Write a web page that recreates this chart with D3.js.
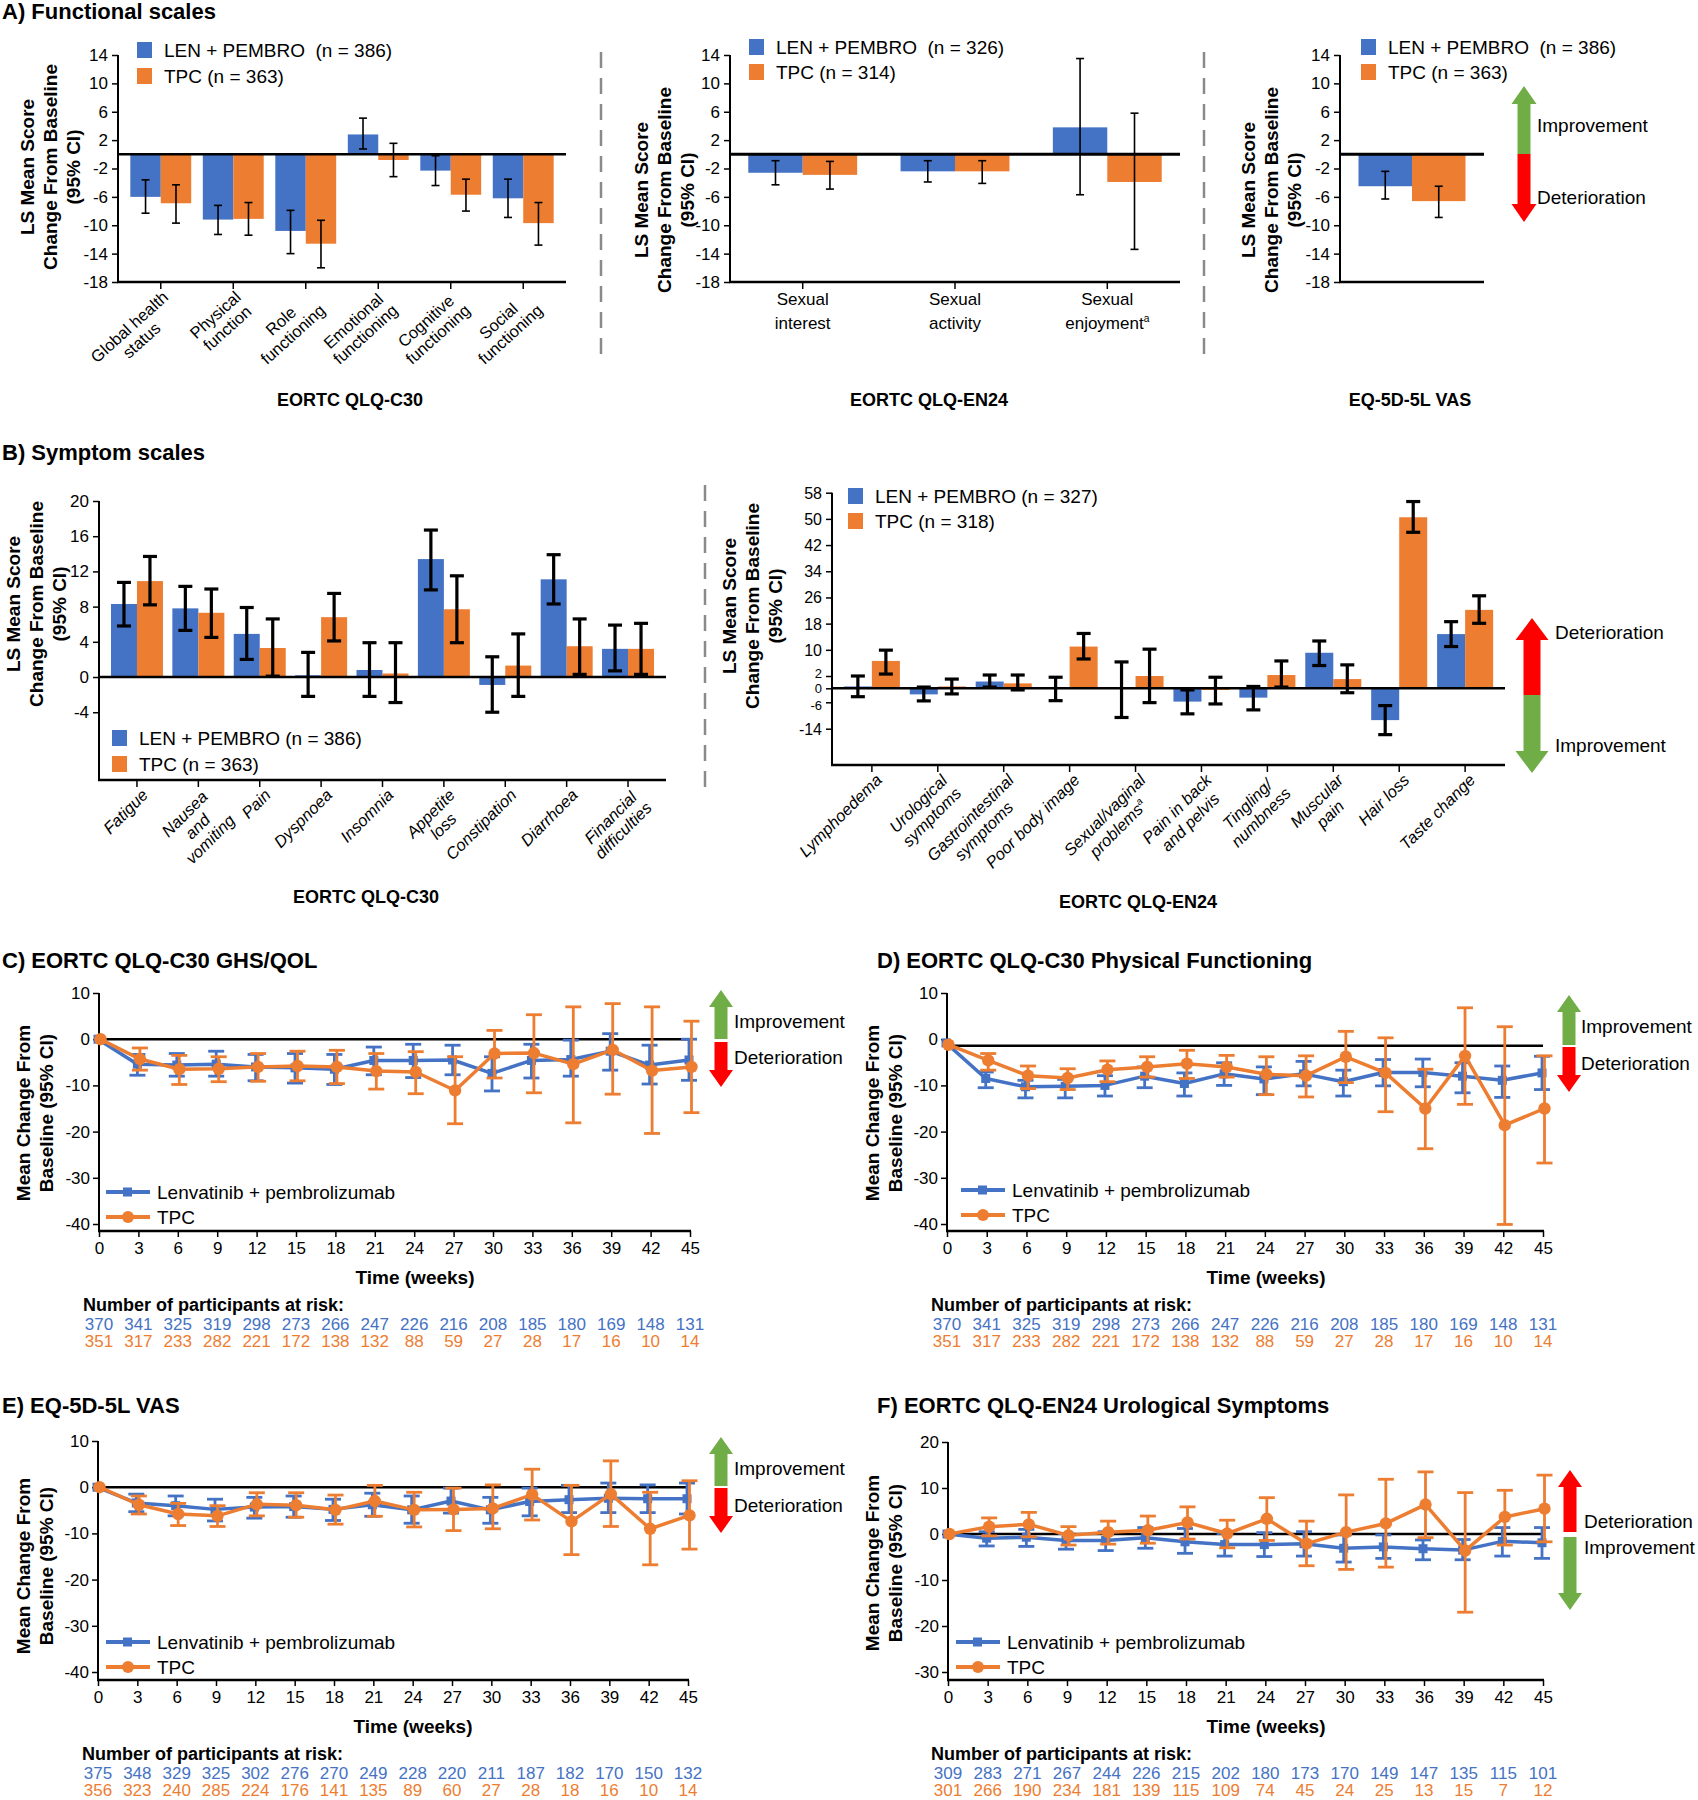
<!DOCTYPE html>
<html><head><meta charset="utf-8">
<script src="https://cdn.jsdelivr.net/npm/d3@7/dist/d3.min.js"></script>
<style>
html,body{margin:0;padding:0;background:#fff;}
svg text{font-family:"Liberation Sans",Arial,Helvetica,sans-serif;white-space:pre;}
</style></head><body><div id="chart"></div>
<script>
// ================= DATA =================
// A) Functional scales – EORTC QLQ-C30
const c30FuncCats = [["Global health","status"],["Physical","function"],["Role","functioning"],["Emotional","functioning"],["Cognitive","functioning"],["Social","functioning"]];
const c30FuncLen   = [-6.0, -9.2, -10.8, 2.8, -2.3, -6.2];
const c30FuncLenLo = [-8.3, -11.3, -14.0, 0.75, -4.4, -8.9];
const c30FuncLenHi = [-3.6, -7.2, -7.9, 5.1, -0.2, -3.5];
const c30FuncTpc   = [-6.9, -9.1, -12.6, -0.8, -5.7, -9.7];
const c30FuncTpcLo = [-9.7, -11.4, -16.0, -3.15, -8.0, -12.8];
const c30FuncTpcHi = [-4.3, -6.8, -9.3, 1.55, -3.5, -6.8];
const funcTicks = [14, 10, 6, 2, -2, -6, -10, -14, -18];

// A) EORTC QLQ-EN24 sexual scales
const en24FuncCats = [["Sexual","interest"],["Sexual","activity"],["Sexual","enjoyment^a"]];
const en24FuncLen   = [-2.6, -2.4, 3.8];
const en24FuncLenLo = [-4.3, -3.9, -5.7];
const en24FuncLenHi = [-0.9, -0.9, 13.5];
const en24FuncTpc   = [-2.9, -2.4, -3.9];
const en24FuncTpcLo = [-4.9, -4.1, -13.4];
const en24FuncTpcHi = [-1.0, -0.9, 5.8];

// A) EQ-5D-5L VAS
const vasCats = [["EQ-5D-5L VAS"]];
const vasBarLen = [-4.5], vasBarLenLo = [-6.3], vasBarLenHi = [-2.4];
const vasBarTpc = [-6.6], vasBarTpcLo = [-8.9], vasBarTpcHi = [-4.5];

// B) Symptom scales – EORTC QLQ-C30
const c30SympCats = [["Fatigue"],["Nausea","and","vomiting"],["Pain"],["Dyspnoea"],["Insomnia"],["Appetite","loss"],["Constipation"],["Diarrhoea"],["Financial","difficulties"]];
const c30SympLen   = [8.3, 7.8, 4.9, 0.2, 0.8, 13.4, -0.9, 11.1, 3.2];
const c30SympLenLo = [5.8, 5.3, 2.0, -2.2, -2.2, 9.9, -4.0, 8.3, 0.7];
const c30SympLenHi = [10.75, 10.3, 7.9, 2.8, 3.9, 16.7, 2.3, 13.9, 5.9];
const c30SympTpc   = [10.9, 7.3, 3.3, 6.8, 0.4, 7.7, 1.3, 3.5, 3.2];
const c30SympTpcLo = [8.2, 4.5, 0.1, 4.1, -2.9, 3.9, -2.2, 0.3, 0.3];
const c30SympTpcHi = [13.7, 10.0, 6.6, 9.5, 3.9, 11.5, 4.9, 6.6, 6.1];
const c30SympTicks = [20, 16, 12, 8, 4, 0, -4];

// B) Symptom scales – EORTC QLQ-EN24
const en24SympCats = [["Lymphoedema"],["Urological","symptoms"],["Gastrointestinal","symptoms"],["Poor body image"],["Sexual/vaginal","problems^a"],["Pain in back","and pelvis"],["Tingling/","numbness"],["Muscular","pain"],["Hair loss"],["Taste change"]];
const en24SympLen   = [0.3, -2.6, 1.1, 0, 0, -5.7, -4.0, 9.1, -11.4, 14.8];
const en24SympLenLo = [-3.6, -5.4, 0.2, -5.3, -10.6, -9.5, -8.3, 5.2, -15.8, 11.0];
const en24SympLenHi = [2.0, 0.2, 2.3, 1.8, 6.3, -0.7, 0.3, 12.7, -7.0, 18.6];
const en24SympTpc   = [6.6, 0.3, 0.8, 11.0, 2.0, -0.7, 2.3, 1.5, 50.5, 22.2];
const en24SympTpcLo = [2.6, -2.4, -0.7, 7.2, -6.1, -6.5, 0.2, -1.9, 45.9, 18.1];
const en24SympTpcHi = [9.9, 1.5, 2.3, 15.0, 10.2, 1.8, 6.6, 5.4, 55.3, 26.5];
const en24SympTicks = [58, 50, 42, 34, 26, 18, 10, 2, 0, -6, -14];

// C-F) Longitudinal
const weeks = [0, 3, 6, 9, 12, 15, 18, 21, 24, 27, 30, 33, 36, 39, 42, 45];

const ghsLen   = [0, -5.4, -5.6, -5.4, -6.0, -6.2, -6.5, -4.6, -4.6, -4.5, -7.4, -4.6, -4.4, -2.6, -5.6, -4.5];
const ghsLenLo = [null, -7.8, -8.0, -8.0, -9.0, -9.5, -9.8, -7.7, -8.3, -7.7, -11.2, -8.4, -8.0, -6.7, -9.7, -8.9];
const ghsLenHi = [null, -3.3, -3.1, -2.6, -3.3, -3.1, -3.3, -1.7, -1.1, -1.3, -3.8, -1.1, -0.2, 1.2, -1.3, 0];
const ghsTpc   = [0, -4.3, -6.5, -6.4, -6.0, -5.8, -6.0, -6.9, -7.1, -11.1, -3.1, -3.0, -5.4, -2.3, -6.8, -6.0];
const ghsTpcLo = [null, -6.7, -9.8, -9.2, -9.1, -9.0, -9.6, -10.8, -11.8, -18.3, -8.4, -11.6, -18.1, -11.9, -20.4, -15.9];
const ghsTpcHi = [null, -1.9, -3.5, -3.8, -3.1, -2.6, -2.4, -3.1, -2.7, -3.8, 1.9, 5.3, 7.0, 7.7, 7.0, 3.9];
const ghsRiskLen = [370, 341, 325, 319, 298, 273, 266, 247, 226, 216, 208, 185, 180, 169, 148, 131];
const ghsRiskTpc = [351, 317, 233, 282, 221, 172, 138, 132, 88, 59, 27, 28, 17, 16, 10, 14];

const pfLen   = [-0.8, -8.5, -10.3, -10.2, -10.0, -8.0, -9.6, -7.5, -8.6, -7.5, -9.2, -7.2, -7.2, -8.0, -8.9, -7.3];
const pfLenLo = [null, -10.5, -12.7, -12.7, -12.3, -10.5, -12.3, -10.0, -12.0, -10.1, -12.3, -10.1, -10.3, -11.6, -12.6, -10.9];
const pfLenHi = [null, -7.1, -8.9, -8.7, -7.9, -6.0, -7.3, -5.1, -6.0, -4.8, -6.7, -4.4, -4.3, -5.1, -5.8, -3.7];
const pfTpc   = [-1.2, -4.6, -7.9, -8.4, -6.6, -6.0, -5.3, -6.0, -7.6, -7.9, -3.8, -7.3, -15.0, -3.6, -18.6, -15.0];
const pfTpcLo = [null, -6.7, -10.7, -10.9, -9.2, -8.2, -8.5, -8.2, -12.0, -12.5, -9.4, -15.7, -23.7, -14.1, -40.1, -26.8];
const pfTpcHi = [null, -3.1, -5.8, -6.4, -4.7, -3.8, -2.4, -3.5, -3.8, -3.6, 1.7, 0.3, -6.5, 6.8, 2.7, -3.6];
const pfRiskLen = [370, 341, 325, 319, 298, 273, 266, 247, 226, 216, 208, 185, 180, 169, 148, 131];
const pfRiskTpc = [351, 317, 233, 282, 221, 172, 138, 132, 88, 59, 27, 28, 17, 16, 10, 14];

const vasLen   = [0, -3.4, -4.0, -4.8, -4.3, -4.2, -4.8, -3.8, -4.9, -3.0, -4.9, -3.1, -2.7, -2.4, -2.5, -2.5];
const vasLenLo = [null, -5.3, -6.2, -7.3, -6.7, -6.5, -7.2, -6.3, -7.8, -5.6, -7.8, -6.2, -5.5, -5.5, -5.5, -5.8];
const vasLenHi = [null, -1.5, -1.9, -2.6, -2.2, -1.9, -2.6, -1.3, -1.9, -0.2, -2.2, -0.2, 0.4, 0.9, 0.5, 0.9];
const vasTpc   = [0, -3.8, -5.8, -6.2, -3.7, -3.9, -4.9, -3.0, -4.9, -4.8, -4.6, -1.6, -7.4, -1.5, -9.0, -6.1];
const vasTpcLo = [null, -5.8, -8.3, -8.5, -6.2, -6.5, -8.0, -6.3, -8.6, -9.4, -9.0, -7.1, -14.6, -8.5, -16.8, -13.4];
const vasTpcHi = [null, -1.9, -3.5, -4.0, -1.2, -1.2, -1.7, 0.4, -1.1, -0.2, 0.5, 3.9, 0.4, 5.7, -1.1, 1.4];
const vasRiskLen = [375, 348, 329, 325, 302, 276, 270, 249, 228, 220, 211, 187, 182, 170, 150, 132];
const vasRiskTpc = [356, 323, 240, 285, 224, 176, 141, 135, 89, 60, 27, 28, 18, 16, 10, 14];

const uroLen   = [0, -0.9, -0.7, -1.4, -1.4, -0.8, -1.7, -2.3, -2.3, -2.1, -3.1, -2.8, -3.2, -3.5, -1.6, -1.9];
const uroLenLo = [null, -2.6, -2.7, -3.3, -3.6, -3.1, -4.2, -4.8, -4.9, -4.8, -6.1, -5.3, -5.6, -5.6, -4.8, -5.3];
const uroLenHi = [null, 0.5, 1.0, 0.1, 0.5, 1.4, 1.2, 0.1, 0.3, 0.5, -0.2, -0.2, -1.3, -1.2, 1.4, 1.4];
const uroTpc   = [0, 1.6, 2.1, -0.3, 0.4, 0.8, 2.5, 0.1, 3.3, -2.1, 0.4, 2.3, 6.4, -3.6, 3.7, 5.5];
const uroTpcLo = [null, -0.4, -0.6, -2.4, -2.2, -2.0, -1.1, -3.0, -1.4, -6.9, -7.7, -7.2, -0.8, -17.0, -2.4, -1.7];
const uroTpcHi = [null, 3.5, 4.7, 1.6, 2.8, 3.9, 5.9, 3.0, 7.9, 2.8, 8.5, 11.9, 13.5, 9.0, 9.5, 12.8];
const uroRiskLen = [309, 283, 271, 267, 244, 226, 215, 202, 180, 173, 170, 149, 147, 135, 115, 101];
const uroRiskTpc = [301, 266, 190, 234, 181, 139, 115, 109, 74, 45, 24, 25, 13, 15, 7, 12];

const lineTicks40 = [10, 0, -10, -20, -30, -40];
const lineTicks30 = [20, 10, 0, -10, -20, -30];

// ================= DRAWING =================
const BLUE = "#4472C4", ORANGE = "#ED7D31", GREEN = "#70AD47", RED = "#FF0000", BLACK = "#000";
const svg = d3.select("#chart").append("svg").attr("width", 1698).attr("height", 1800).style("display", "block");

function txt(g, x, y, s, o = {}) {
  const t = g.append("text").attr("x", x).attr("y", y)
    .attr("font-size", o.size || 17).attr("font-weight", o.bold ? "bold" : "normal")
    .attr("text-anchor", o.anchor || "start").attr("fill", o.color || BLACK);
  if (o.italic) t.attr("font-style", "italic");
  addLine(t, s, o.size || 17);
  return t;
}
function addLine(t, s, size) {
  const m = s.split("^");
  t.append("tspan").text(m[0]);
  if (m[1]) t.append("tspan").attr("font-size", size * 0.6).attr("dy", -size * 0.4).text(m[1]);
}
function rotLabel(g, ax, ay, lines, angle, size, italic, lh) {
  const gg = g.append("g").attr("transform", `translate(${ax},${ay}) rotate(${angle})`);
  const ts = lines.map((l, i) => {
    const t = gg.append("text").attr("y", size * 0.78 + i * lh).attr("font-size", size).attr("text-anchor", "middle");
    if (italic) t.attr("font-style", "italic");
    addLine(t, l, size);
    return t;
  });
  const w = d3.max(ts, t => t.node().getComputedTextLength());
  ts.forEach(t => t.attr("x", -w / 2));
}
function yTitle(cx, cy, lines, spacing, size) {
  const g = svg.append("g").attr("transform", `translate(${cx},${cy}) rotate(-90)`);
  lines.forEach((l, i) => g.append("text").attr("x", 0)
    .attr("y", (i - (lines.length - 1) / 2) * spacing + size * 0.36)
    .attr("text-anchor", "middle").attr("font-size", size).attr("font-weight", "bold").text(l));
}
function arrow(x, yBase, yTip, color, shaftW, headW, headL) {
  const dir = yTip < yBase ? -1 : 1;
  const yh = yTip - dir * headL;
  const pts = [[x - shaftW / 2, yBase], [x - shaftW / 2, yh], [x - headW / 2, yh], [x, yTip], [x + headW / 2, yh], [x + shaftW / 2, yh], [x + shaftW / 2, yBase]];
  svg.append("path").attr("d", d3.line()(pts) + "Z").attr("fill", color);
}
function styleAxis(a, size) {
  a.attr("font-family", null).attr("font-size", null);
  a.selectAll("text").attr("font-size", size).attr("fill", BLACK);
  a.selectAll(".tick line").attr("stroke", BLACK).attr("stroke-width", 1.5);
}

function barPanel(o) {
  const g = svg.append("g");
  const x = d3.scaleBand().domain(o.cats.map((_, i) => i)).range(o.xr).paddingInner(o.pI).paddingOuter(o.pO);
  const sub = d3.scaleBand().domain(["len", "tpc"]).range([0, x.bandwidth()]);
  const y = o.y;
  const y0 = y(0);
  const [dmin, dmax] = d3.extent(y.domain());
  const yBot = y(dmin), yTop = y(dmax);
  const series = [
    { k: "len", m: o.lenM, lo: o.lenLo, hi: o.lenHi, c: BLUE },
    { k: "tpc", m: o.tpcM, lo: o.tpcLo, hi: o.tpcHi, c: ORANGE }];
  series.forEach(s => {
    g.append("g").selectAll("rect").data(s.m).join("rect")
      .attr("x", (d, i) => x(i) + sub(s.k)).attr("width", sub.bandwidth())
      .attr("y", d => Math.min(y(d), y0)).attr("height", d => Math.max(Math.abs(y(d) - y0), 0.01))
      .attr("fill", s.c);
  });
  g.append("line").attr("x1", o.xr[0]).attr("x2", o.xr[1]).attr("y1", y0).attr("y2", y0)
    .attr("stroke", BLACK).attr("stroke-width", o.zeroW);
  series.forEach(s => {
    const eg = g.append("g").attr("stroke", BLACK).attr("stroke-width", o.ebW).attr("fill", "none");
    s.m.forEach((d, i) => {
      const cx = x(i) + sub(s.k) + sub.bandwidth() / 2;
      eg.append("line").attr("x1", cx).attr("x2", cx).attr("y1", y(s.lo[i])).attr("y2", y(s.hi[i]));
      [s.lo[i], s.hi[i]].forEach(v => eg.append("line").attr("x1", cx - o.capW / 2).attr("x2", cx + o.capW / 2).attr("y1", y(v)).attr("y2", y(v)));
    });
  });
  const ya = g.append("g").attr("transform", `translate(${o.xr[0]},0)`)
    .call(d3.axisLeft(y).tickValues(o.ticks).tickFormat(d => String(d)).tickSizeInner(6).tickSizeOuter(0).tickPadding(4));
  ya.select(".domain").remove();
  styleAxis(ya, o.tickSize || 16);
  if (o.tickNudge) {
    ya.selectAll(".tick text").attr("dy", null).attr("dominant-baseline", "central")
      .attr("y", d => o.tickNudge[d] || 0)
      .attr("font-size", d => (o.tickNudge[d] !== undefined ? o.nudgeSize : o.tickSize));
  }
  g.append("line").attr("x1", o.xr[0]).attr("x2", o.xr[0]).attr("y1", yTop).attr("y2", yBot + 1).attr("stroke", BLACK).attr("stroke-width", 2);
  g.append("line").attr("x1", o.xr[0] - 1).attr("x2", o.xr[1]).attr("y1", yBot).attr("y2", yBot).attr("stroke", BLACK).attr("stroke-width", 2.5);
  if (o.xTicks) {
    o.cats.forEach((c, i) => {
      const cx = x(i) + x.bandwidth() / 2;
      g.append("line").attr("x1", cx).attr("x2", cx).attr("y1", yBot).attr("y2", yBot + 7).attr("stroke", BLACK).attr("stroke-width", 1.5);
    });
  }
  if (o.labels === "rot") {
    o.cats.forEach((c, i) => rotLabel(g, x(i) + x.bandwidth() / 2 + o.labDx, yBot + o.labDy, c, o.angle, o.labSize, o.italic, o.labLh));
  } else if (o.labels === "flat") {
    o.cats.forEach((c, i) => c.forEach((l, j) => txt(g, x(i) + x.bandwidth() / 2, yBot + 23 + j * 24, l, { size: 17, anchor: "middle" })));
  }
  const L = o.legend;
  [[BLUE, L.t1, L.y1], [ORANGE, L.t2, L.y2]].forEach(([c, t, yy]) => {
    g.append("rect").attr("x", L.x).attr("y", yy - 8).attr("width", 15).attr("height", 16).attr("fill", c);
    txt(g, L.x + 27, yy + 7, t, { size: 19 });
  });
  return { x, y };
}

function linePanel(o) {
  const g = svg.append("g");
  const x = d3.scaleLinear().domain([0, 45]).range(o.xr);
  const y = d3.scaleLinear().domain(o.yd).range(o.yr);
  g.append("line").attr("x1", x(0)).attr("x2", x(45)).attr("y1", y(o.ref)).attr("y2", y(o.ref))
    .attr("stroke", BLACK).attr("stroke-width", 2.5);
  const ya = g.append("g").attr("transform", `translate(${x(0)},0)`)
    .call(d3.axisLeft(y).tickValues(o.yticks).tickFormat(d => String(d)).tickSizeInner(6).tickSizeOuter(0).tickPadding(3));
  ya.select(".domain").remove();
  styleAxis(ya, 17);
  g.append("line").attr("x1", x(0)).attr("x2", x(0)).attr("y1", y(o.yd[1])).attr("y2", o.axisY).attr("stroke", BLACK).attr("stroke-width", 2);
  const xa = g.append("g").attr("transform", `translate(0,${o.axisY})`)
    .call(d3.axisBottom(x).tickValues(weeks).tickFormat(d => String(d)).tickSizeInner(6).tickSizeOuter(0).tickPadding(5));
  xa.select(".domain").remove();
  styleAxis(xa, 17);
  g.append("line").attr("x1", x(0) - 1).attr("x2", x(45) + 1).attr("y1", o.axisY).attr("y2", o.axisY).attr("stroke", BLACK).attr("stroke-width", 2.5);
  const series = [
    { m: o.lenM, lo: o.lenLo, hi: o.lenHi, c: BLUE, dx: -1, shape: "sq" },
    { m: o.tpcM, lo: o.tpcLo, hi: o.tpcHi, c: ORANGE, dx: 1.5, shape: "ci" }];
  series.forEach(s => {
    const sg = g.append("g");
    const eb = sg.append("g").attr("stroke", s.c).attr("stroke-width", 2.8);
    s.m.forEach((d, i) => {
      if (s.lo[i] == null) return;
      const cx = x(weeks[i]) + s.dx;
      eb.append("line").attr("x1", cx).attr("x2", cx).attr("y1", y(s.lo[i])).attr("y2", y(s.hi[i]));
      [s.lo[i], s.hi[i]].forEach(v => eb.append("line").attr("x1", cx - 8).attr("x2", cx + 8).attr("y1", y(v)).attr("y2", y(v)));
    });
    sg.append("path").datum(s.m)
      .attr("d", d3.line().x((d, i) => x(weeks[i]) + s.dx).y(d => y(d)))
      .attr("fill", "none").attr("stroke", s.c).attr("stroke-width", 3.5).attr("stroke-linejoin", "round");
    if (s.shape === "sq") {
      sg.selectAll("rect").data(s.m).join("rect")
        .attr("x", (d, i) => x(weeks[i]) + s.dx - 4.5).attr("y", d => y(d) - 4.5)
        .attr("width", 9).attr("height", 9).attr("fill", s.c);
    } else {
      sg.selectAll("circle").data(s.m).join("circle")
        .attr("cx", (d, i) => x(weeks[i]) + s.dx).attr("cy", d => y(d)).attr("r", 6.2).attr("fill", s.c);
    }
  });
  const L = o.legend;
  [[BLUE, "Lenvatinib + pembrolizumab", L.y1, "sq"], [ORANGE, "TPC", L.y2, "ci"]].forEach(([c, t, yy, sh]) => {
    g.append("line").attr("x1", L.x).attr("x2", L.x + 44).attr("y1", yy).attr("y2", yy).attr("stroke", c).attr("stroke-width", 4);
    if (sh === "sq") g.append("rect").attr("x", L.x + 17).attr("y", yy - 4.5).attr("width", 9).attr("height", 9).attr("fill", c);
    else g.append("circle").attr("cx", L.x + 22).attr("cy", yy).attr("r", 6).attr("fill", c);
    txt(g, L.x + 51, yy + 7, t, { size: 19 });
  });
  txt(g, o.timeX, o.axisY + 53, "Time (weeks)", { size: 19, bold: true, anchor: "middle" });
  txt(g, o.riskX, o.axisY + 80, "Number of participants at risk:", { size: 18, bold: true });
  [[o.riskLen, BLUE, 99], [o.riskTpc, ORANGE, 116]].forEach(([arr, c, dy]) => {
    g.append("g").selectAll("text").data(arr).join("text")
      .attr("x", (d, i) => x(weeks[i])).attr("y", o.axisY + dy)
      .attr("text-anchor", "middle").attr("font-size", 17).attr("fill", c).text(d => d);
  });
}

// ---------- Panel titles ----------
txt(svg, 2, 19, "A) Functional scales", { size: 22, bold: true });
txt(svg, 2, 460, "B) Symptom scales", { size: 22, bold: true });
txt(svg, 2, 968, "C) EORTC QLQ-C30 GHS/QOL", { size: 22, bold: true });
txt(svg, 877, 968, "D) EORTC QLQ-C30 Physical Functioning", { size: 22, bold: true });
txt(svg, 2, 1413, "E) EQ-5D-5L VAS", { size: 22, bold: true });
txt(svg, 877, 1413, "F) EORTC QLQ-EN24 Urological Symptoms", { size: 22, bold: true });

// ---------- dashed dividers ----------
[[601, 52, 358], [1204, 52, 358], [705, 485, 790]].forEach(([xx, y1, y2]) =>
  svg.append("line").attr("x1", xx).attr("x2", xx).attr("y1", y1).attr("y2", y2)
    .attr("stroke", "#8a8a8a").attr("stroke-width", 2.5).attr("stroke-dasharray", "16,10"));

// ---------- A) ----------
const yFunc = d3.scaleLinear().domain([-18, 14]).range([282, 55]);
const lsTitle = ["LS Mean Score", "Change From Baseline", "(95% CI)"];

barPanel({ cats: c30FuncCats, xr: [118, 566], pI: 0.16, pO: 0.17, y: yFunc, ticks: funcTicks, tickSize: 17,
  lenM: c30FuncLen, lenLo: c30FuncLenLo, lenHi: c30FuncLenHi, tpcM: c30FuncTpc, tpcLo: c30FuncTpcLo, tpcHi: c30FuncTpcHi,
  zeroW: 2.5, ebW: 1.6, capW: 8, xTicks: true, labels: "rot", angle: -42, labDx: 0, labDy: 7, labSize: 16.5, labLh: 18, italic: false,
  legend: { x: 137, y1: 50, y2: 76, t1: "LEN + PEMBRO  (n = 386)", t2: "TPC (n = 363)" } });
yTitle(50, 167, lsTitle, 23, 19);
txt(svg, 350, 406, "EORTC QLQ-C30", { size: 18, bold: true, anchor: "middle" });

barPanel({ cats: en24FuncCats, xr: [730, 1180], pI: 0.285, pO: 0.12, y: yFunc, ticks: funcTicks, tickSize: 17,
  lenM: en24FuncLen, lenLo: en24FuncLenLo, lenHi: en24FuncLenHi, tpcM: en24FuncTpc, tpcLo: en24FuncTpcLo, tpcHi: en24FuncTpcHi,
  zeroW: 3, ebW: 1.6, capW: 8, xTicks: true, labels: "flat",
  legend: { x: 749, y1: 47, y2: 72, t1: "LEN + PEMBRO  (n = 326)", t2: "TPC (n = 314)" } });
yTitle(664, 190, lsTitle, 23, 19);
txt(svg, 929, 406, "EORTC QLQ-EN24", { size: 18, bold: true, anchor: "middle" });

barPanel({ cats: vasCats, xr: [1340, 1484], pI: 0, pO: 0.173, y: yFunc, ticks: funcTicks, tickSize: 17,
  lenM: vasBarLen, lenLo: vasBarLenLo, lenHi: vasBarLenHi, tpcM: vasBarTpc, tpcLo: vasBarTpcLo, tpcHi: vasBarTpcHi,
  zeroW: 3, ebW: 1.6, capW: 8, xTicks: false, labels: "none",
  legend: { x: 1361, y1: 47, y2: 72, t1: "LEN + PEMBRO  (n = 386)", t2: "TPC (n = 363)" } });
yTitle(1271, 190, lsTitle, 23, 19);
txt(svg, 1410, 406, "EQ-5D-5L VAS", { size: 18, bold: true, anchor: "middle" });
arrow(1524, 154, 86, GREEN, 13, 25, 18);
arrow(1524, 154, 222, RED, 13, 25, 18);
txt(svg, 1537, 132, "Improvement", { size: 19 });
txt(svg, 1537, 204, "Deterioration", { size: 19 });

// ---------- B) ----------
const ySympC30 = d3.scaleLinear().domain([-11.7, 20]).range([780, 501]);
barPanel({ cats: c30SympCats, xr: [99, 666], pI: 0.153, pO: 0.195, y: ySympC30, ticks: c30SympTicks, tickSize: 17,
  lenM: c30SympLen, lenLo: c30SympLenLo, lenHi: c30SympLenHi, tpcM: c30SympTpc, tpcLo: c30SympTpcLo, tpcHi: c30SympTpcHi,
  zeroW: 2.5, ebW: 3.2, capW: 14, xTicks: true, labels: "rot", angle: -45, labDx: 3, labDy: 7, labSize: 16.5, labLh: 18, italic: true,
  legend: { x: 112, y1: 738, y2: 764, t1: "LEN + PEMBRO (n = 386)", t2: "TPC (n = 363)" } });
yTitle(36, 604, lsTitle, 23, 19);
txt(svg, 366, 903, "EORTC QLQ-C30", { size: 18, bold: true, anchor: "middle" });

// segmented (polylinear) axis as in the source figure
const ySympEN = d3.scaleLinear().domain([-25, -14, -6, 0, 2, 58]).range([765, 728.7, 702.3, 688.3, 676, 492.7]);
barPanel({ cats: en24SympCats, xr: [832, 1505], pI: 0.15, pO: 0.18, y: ySympEN, ticks: en24SympTicks, tickSize: 16,
  tickNudge: { 2: -3.5, 0: 0, "-6": 2.5 }, nudgeSize: 13,
  lenM: en24SympLen, lenLo: en24SympLenLo, lenHi: en24SympLenHi, tpcM: en24SympTpc, tpcLo: en24SympTpcLo, tpcHi: en24SympTpcHi,
  zeroW: 2.5, ebW: 3.2, capW: 14, xTicks: true, labels: "rot", angle: -45, labDx: 2, labDy: 7, labSize: 16.5, labLh: 19, italic: true,
  legend: { x: 848, y1: 496, y2: 521, t1: "LEN + PEMBRO (n = 327)", t2: "TPC (n = 318)" } });
yTitle(752, 606, lsTitle, 23, 19);
txt(svg, 1138, 908, "EORTC QLQ-EN24", { size: 18, bold: true, anchor: "middle" });
arrow(1532, 695, 618, RED, 17, 33, 22);
arrow(1532, 695, 773, GREEN, 17, 33, 22);
txt(svg, 1555, 639, "Deterioration", { size: 19 });
txt(svg, 1555, 752, "Improvement", { size: 19 });

// ---------- C–F) ----------
const mcTitle = ["Mean Change From", "Baseline (95% CI)"];
linePanel({ xr: [99, 690], yd: [-40, 10], yr: [1224, 993], axisY: 1231, ref: 0, yticks: lineTicks40,
  lenM: ghsLen, lenLo: ghsLenLo, lenHi: ghsLenHi, tpcM: ghsTpc, tpcLo: ghsTpcLo, tpcHi: ghsTpcHi,
  riskLen: ghsRiskLen, riskTpc: ghsRiskTpc, timeX: 415, riskX: 83,
  legend: { x: 106, y1: 1192, y2: 1217 } });
yTitle(35, 1113, mcTitle, 23, 19);
arrow(721, 1039, 990, GREEN, 13, 24, 17);
arrow(721, 1042, 1087, RED, 13, 24, 17);
txt(svg, 734, 1028, "Improvement", { size: 19 });
txt(svg, 734, 1064, "Deterioration", { size: 19 });

linePanel({ xr: [947, 1543], yd: [-40, 10], yr: [1224, 993], axisY: 1231, ref: -1.4, yticks: lineTicks40,
  lenM: pfLen, lenLo: pfLenLo, lenHi: pfLenHi, tpcM: pfTpc, tpcLo: pfTpcLo, tpcHi: pfTpcHi,
  riskLen: pfRiskLen, riskTpc: pfRiskTpc, timeX: 1266, riskX: 931,
  legend: { x: 961, y1: 1190, y2: 1215 } });
yTitle(884, 1113, mcTitle, 23, 19);
arrow(1569, 1045, 995, GREEN, 13, 24, 17);
arrow(1569, 1047, 1092, RED, 13, 24, 17);
txt(svg, 1581, 1033, "Improvement", { size: 19 });
txt(svg, 1581, 1070, "Deterioration", { size: 19 });

linePanel({ xr: [98, 688], yd: [-40, 10], yr: [1672, 1441], axisY: 1680, ref: 0, yticks: lineTicks40,
  lenM: vasLen, lenLo: vasLenLo, lenHi: vasLenHi, tpcM: vasTpc, tpcLo: vasTpcLo, tpcHi: vasTpcHi,
  riskLen: vasRiskLen, riskTpc: vasRiskTpc, timeX: 413, riskX: 82,
  legend: { x: 106, y1: 1642, y2: 1667 } });
yTitle(35, 1566, mcTitle, 23, 19);
arrow(721, 1486, 1437, GREEN, 13, 24, 17);
arrow(721, 1488, 1533, RED, 13, 24, 17);
txt(svg, 734, 1475, "Improvement", { size: 19 });
txt(svg, 734, 1512, "Deterioration", { size: 19 });

linePanel({ xr: [948, 1543], yd: [-30, 20], yr: [1672, 1442], axisY: 1680, ref: 0, yticks: lineTicks30,
  lenM: uroLen, lenLo: uroLenLo, lenHi: uroLenHi, tpcM: uroTpc, tpcLo: uroTpcLo, tpcHi: uroTpcHi,
  riskLen: uroRiskLen, riskTpc: uroRiskTpc, timeX: 1266, riskX: 931,
  legend: { x: 956, y1: 1642, y2: 1667 } });
yTitle(884, 1563, mcTitle, 23, 19);
arrow(1570, 1532, 1470, RED, 13, 24, 17);
arrow(1570, 1537, 1610, GREEN, 13, 24, 17);
txt(svg, 1584, 1528, "Deterioration", { size: 19 });
txt(svg, 1584, 1554, "Improvement", { size: 19 });
</script>
</body></html>
